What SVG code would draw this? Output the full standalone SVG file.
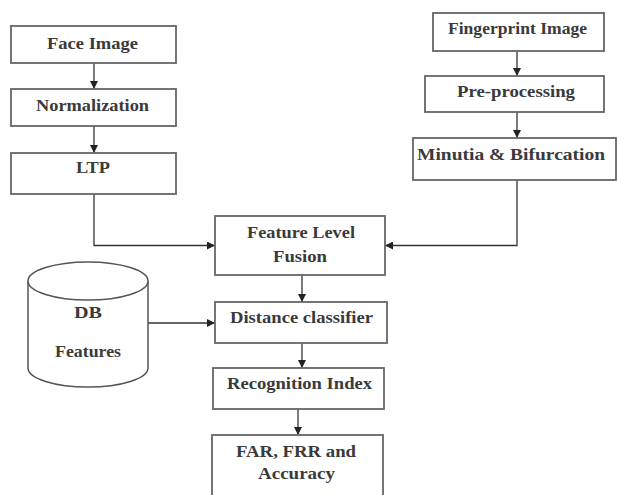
<svg xmlns="http://www.w3.org/2000/svg" width="617" height="495" viewBox="0 0 617 495">
<defs>
<style>
.box{fill:#fff;stroke:#666;stroke-width:1.8}
.t{font-family:"Liberation Serif","DejaVu Serif",serif;font-size:16px;font-weight:bold;fill:#3a3a3a;text-anchor:middle}
.c{fill:none;stroke:#333;stroke-width:1.3}
</style>
<marker id="ah" viewBox="0 0 10 10" refX="10" refY="5" markerWidth="8" markerHeight="8" markerUnits="userSpaceOnUse" orient="auto">
<path d="M0,0 L10,5 L0,10 z" fill="#222"/>
</marker>
</defs>
<rect width="617" height="495" fill="#fff"/>
<g id="connectors">
<line class="c" x1="94" y1="63" x2="94" y2="89" marker-end="url(#ah)"/>
<line class="c" x1="94" y1="126" x2="94" y2="153" marker-end="url(#ah)"/>
<path class="c" d="M94 194 V245.5 H215" marker-end="url(#ah)"/>
<line class="c" x1="517" y1="51" x2="517" y2="76" marker-end="url(#ah)"/>
<line class="c" x1="517" y1="112" x2="517" y2="138" marker-end="url(#ah)"/>
<path class="c" d="M517 180 V245.5 H385" marker-end="url(#ah)"/>
<line class="c" x1="302" y1="275" x2="302" y2="302" marker-end="url(#ah)"/>
<line class="c" x1="148" y1="323" x2="215" y2="323" marker-end="url(#ah)"/>
<line class="c" x1="302" y1="343" x2="302" y2="368" marker-end="url(#ah)"/>
<line class="c" x1="298" y1="409" x2="298" y2="435" marker-end="url(#ah)"/>
</g>
<g id="face"><rect class="box" x="11" y="26" width="165" height="37"/><text class="t" x="92.5" y="49" textLength="91" lengthAdjust="spacingAndGlyphs">Face Image</text></g>
<g id="normalization"><rect class="box" x="11" y="89" width="165" height="37"/><text class="t" x="92.5" y="111" textLength="113" lengthAdjust="spacingAndGlyphs">Normalization</text></g>
<g id="ltp"><rect class="box" x="11" y="153" width="165" height="41"/><text class="t" x="93" y="173" textLength="34" lengthAdjust="spacingAndGlyphs">LTP</text></g>
<g id="fingerprint"><rect class="box" x="433" y="13" width="171" height="38"/><text class="t" x="517.5" y="34" textLength="139" lengthAdjust="spacingAndGlyphs">Fingerprint Image</text></g>
<g id="preprocessing"><rect class="box" x="425" y="76" width="179" height="36"/><text class="t" x="516" y="97" textLength="118" lengthAdjust="spacingAndGlyphs">Pre-processing</text></g>
<g id="minutia"><rect class="box" x="413" y="138" width="203" height="42"/><text class="t" x="511" y="160" textLength="188" lengthAdjust="spacingAndGlyphs">Minutia &amp; Bifurcation</text></g>
<g id="fusion"><rect class="box" x="215" y="216" width="170" height="59"/><text class="t" x="301" y="238" textLength="108" lengthAdjust="spacingAndGlyphs">Feature Level</text><text class="t" x="300" y="262" textLength="54" lengthAdjust="spacingAndGlyphs">Fusion</text></g>
<g id="db">
<path d="M28 281 V368 A60 19 0 0 0 148 368 V281" fill="#fff" stroke="#555" stroke-width="1.5"/>
<ellipse cx="88" cy="281" rx="60" ry="19" fill="#fff" stroke="#555" stroke-width="1.5"/>
<text class="t" x="88" y="318" textLength="28" lengthAdjust="spacingAndGlyphs">DB</text>
<text class="t" x="88" y="357" textLength="66" lengthAdjust="spacingAndGlyphs">Features</text>
</g>
<g id="distance"><rect class="box" x="215" y="302" width="172" height="41"/><text class="t" x="301.5" y="323" textLength="143" lengthAdjust="spacingAndGlyphs">Distance classifier</text></g>
<g id="recognition"><rect class="box" x="213" y="368" width="171" height="41"/><text class="t" x="299.5" y="389" textLength="145" lengthAdjust="spacingAndGlyphs">Recognition Index</text></g>
<g id="far"><rect class="box" x="212" y="435" width="171" height="70"/><text class="t" x="296" y="457" textLength="120" lengthAdjust="spacingAndGlyphs">FAR, FRR and</text><text class="t" x="296.5" y="479" textLength="77" lengthAdjust="spacingAndGlyphs">Accuracy</text></g>
</svg>
